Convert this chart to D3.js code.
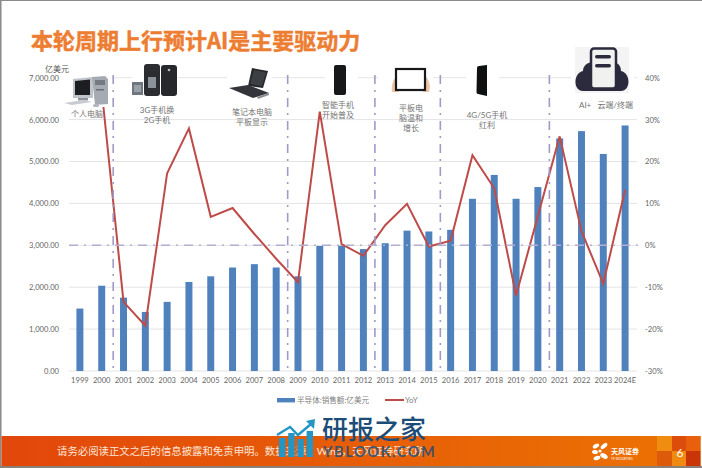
<!DOCTYPE html>
<html>
<head>
<meta charset="utf-8">
<script src="https://cdn.jsdelivr.net/npm/d3@7"></script>
<style>
html, body { margin: 0; padding: 0; background: #fff; overflow: hidden; }
text { font-family: Lato, "Noto Sans CJK SC", sans-serif; }
</style>
</head>
<body>
<div id="chart"></div>
<script>
var years = ["1999","2000","2001","2002","2003","2004","2005","2006","2007","2008","2009","2010","2011","2012","2013","2014","2015","2016","2017","2018","2019","2020","2021","2022","2023","2024E"];
var sales = [1490,2035,1750,1410,1650,2125,2260,2470,2550,2470,2260,2985,2990,2910,3050,3350,3330,3370,4110,4680,4110,4390,5550,5725,5180,5860];
var yoy = [null,37,-13.5,-19.2,17.2,27.9,6.8,8.9,2.7,-3.2,-8.8,31.9,0.3,-2.5,4.8,9.9,-0.3,1.1,21.5,13.6,-12,7,26,3.4,-9.2,13.2];
var leftTicks = [0,1000,2000,3000,4000,5000,6000,7000];
var rightTicks = [-30,-20,-10,0,10,20,30,40];
var phaseYears = ["2000","2008","2012","2015","2020"];
var seriesNames = ["半导体:销售额:亿美元", "YoY"];
var captionLines = [
  ["个人电脑"],
  ["3G手机换", "2G手机"],
  ["笔记本电脑", "平板显示"],
  ["智能手机", "开始普及"],
  ["平板电", "脑温和", "增长"],
  ["4G/5G手机", "红利"],
  ["AI+\u00a0\u00a0\u00a0云端/终端"]
];

var svg = d3.select("#chart").append("svg")
  .attr("width", 702)
  .attr("height", 468);

// page edges
svg.append("rect").attr("width", 702).attr("height", 468).attr("fill", "#fff");
svg.append("rect").attr("width", 702).attr("height", 1).attr("fill", "#8a8a8a");
svg.append("rect").attr("width", 1.5).attr("height", 468).attr("fill", "#8a8a8a");
svg.append("rect").attr("y", 466).attr("width", 702).attr("height", 2).attr("fill", "#8a8278");

svg.append("text").attr("x", 31).attr("y", 49)
  .attr("font-size", 22).attr("font-weight", 700).attr("fill", "#ed7d31")
  .attr("stroke", "#ed7d31").attr("stroke-width", 0.5)
  .style("font-family", '"Noto Sans CJK SC", sans-serif')
  .text("本轮周期上行预计AI是主要驱动力");

var xScale = d3.scaleBand().domain(years).range([69, 636]).paddingInner(0.68).paddingOuter(0.34);
var yLeft = d3.scaleLinear().domain([0, 7000]).range([371, 77.7]);
var yRight = d3.scaleLinear().domain([-30, 40]).range([371, 77.7]);
var xMid = function(d) { return xScale(d) + xScale.bandwidth() / 2; };

// gridlines
svg.append("g").selectAll("line").data(leftTicks).enter().append("line")
  .attr("x1", 69).attr("x2", 637)
  .attr("y1", d => yLeft(d)).attr("y2", d => yLeft(d))
  .attr("stroke", "#e4e4e6").attr("stroke-width", 1);

// bars
svg.append("g").selectAll("rect").data(sales).enter().append("rect")
  .attr("x", (d, i) => xScale(years[i]))
  .attr("width", xScale.bandwidth())
  .attr("y", d => yLeft(d))
  .attr("height", d => yLeft(0) - yLeft(d))
  .attr("fill", "#4f81bd");

// axes
var leftAxis = d3.axisLeft(yLeft).tickValues(leftTicks).tickSize(0).tickPadding(10).tickFormat(d3.format(",.2f"));
var rightAxis = d3.axisRight(yRight).tickValues(rightTicks).tickSize(0).tickPadding(8).tickFormat(d => d + "%");
var bottomAxis = d3.axisBottom(xScale).tickSize(0).tickPadding(7);

[svg.append("g").attr("transform", "translate(69,0)").call(leftAxis),
 svg.append("g").attr("transform", "translate(637,0)").call(rightAxis),
 svg.append("g").attr("transform", "translate(0,371)").call(bottomAxis)].forEach(function(g) {
  g.select(".domain").remove();
  g.selectAll("text").attr("font-size", 7.6).attr("fill", "#666")
    .style("font-family", "Lato, sans-serif");
});

// YoY line
var line = d3.line()
  .defined(d => d !== null)
  .x((d, i) => xMid(years[i]))
  .y(d => yRight(d));
svg.append("path").datum(yoy)
  .attr("d", line)
  .attr("fill", "none").attr("stroke", "#be4b48").attr("stroke-width", 2);

// phase dividers, half way between two years
var dashes = "9,6,2,6";
var dividerX = function(y) { return xMid(y) + xScale.step() / 2 + 0.6; };
svg.append("g").selectAll("line").data(phaseYears).enter().append("line")
  .attr("x1", dividerX).attr("x2", dividerX)
  .attr("y1", 75).attr("y2", 371)
  .attr("stroke", "#a09ac8").attr("stroke-width", 1.6).attr("stroke-dasharray", dashes);
svg.append("line")
  .attr("x1", 69).attr("x2", 640)
  .attr("y1", yRight(0)).attr("y2", yRight(0))
  .attr("stroke", "#b3aed2").attr("stroke-width", 1.6).attr("stroke-dasharray", dashes);

// pictures sit on white boxes that cut the top gridline and the line
[[62,112],[132,178],[227,272],[325,358],[378,433],[466,499],[571,634]].forEach(function(b) {
  svg.append("rect").attr("x", b[0]).attr("y", 72).attr("width", b[1] - b[0]).attr("height", 12).attr("fill", "#fff");
});
svg.append("rect").attr("x", 62).attr("y", 72).attr("width", 50).attr("height", 35).attr("fill", "#fff");

function icon(x, y) {
  return svg.append("g").attr("transform", "translate(" + x + "," + y + ")");
}

// desktop pc
var pc = icon(64, 74);
pc.append("path").attr("d", "M9,5 L29,3 L29,24 L9,24 Z").attr("fill", "#bfc4ca");
pc.append("path").attr("d", "M11,7 L26,5.5 L26,21 L11,21 Z").attr("fill", "#1d1e22");
pc.append("path").attr("d", "M28,3 L41,2 L44,5 L44,30 L31,31 Z").attr("fill", "#a4abb3");
pc.append("rect").attr("x", 31).attr("y", 6).attr("width", 10).attr("height", 5).attr("fill", "#737a82");
pc.append("rect").attr("x", 32).attr("y", 15).attr("width", 8).attr("height", 1.5).attr("fill", "#6a7078");
pc.append("rect").attr("x", 14).attr("y", 24).attr("width", 10).attr("height", 2.5).attr("fill", "#8f959c");
pc.append("path").attr("d", "M0,29 L20,26 L28,28 L8,31 Z").attr("fill", "#c8ccd1");
pc.append("ellipse").attr("cx", 32).attr("cy", 31.5).attr("rx", 3).attr("ry", 1.6).attr("fill", "#b0b5bb");

// two phones and a battery
var phones = icon(132, 63);
phones.append("rect").attr("x", 0).attr("y", 19).attr("width", 11).attr("height", 13).attr("fill", "#6f7680");
phones.append("rect").attr("x", 2).attr("y", 22).attr("width", 7).attr("height", 7).attr("fill", "#9aa0a8");
phones.append("rect").attr("x", 12).attr("y", 1).attr("width", 16).attr("height", 32).attr("rx", 3).attr("fill", "#2b2d31");
phones.append("rect").attr("x", 16).attr("y", 14).attr("width", 8).attr("height", 11).attr("fill", "#8b929a");
phones.append("rect").attr("x", 29).attr("y", 2).attr("width", 16).attr("height", 31).attr("rx", 3).attr("fill", "#26282b");
phones.append("circle").attr("cx", 37).attr("cy", 7).attr("r", 1.3).attr("fill", "#bbb");

// laptop
var laptop = icon(228, 66);
laptop.append("path").attr("d", "M24,2 L40,5 L35,22 L20,20 Z").attr("fill", "#25272b");
laptop.append("path").attr("d", "M26,4 L38,6.5 L34,20 L22,18 Z").attr("fill", "#3c3f44");
laptop.append("path").attr("d", "M1,22 L20,19 L41,27 L25,32 Z").attr("fill", "#33353a");
laptop.append("path").attr("d", "M29,31 L41,27 L41,29 L30,33 Z").attr("fill", "#8a8d92");

// smartphone
var phone = icon(333, 64);
phone.append("rect").attr("x", 1).attr("y", 1).attr("width", 12).attr("height", 30).attr("rx", 2).attr("fill", "#17181a");

// tablet in hands
var tablet = icon(391, 66);
tablet.append("path").attr("d", "M1,26 C0,20 2,14 5,11 L8,26 Z").attr("fill", "#ecc4a6");
tablet.append("path").attr("d", "M38,26 C40,20 38,14 35,11 L32,26 Z").attr("fill", "#ecc4a6");
tablet.append("rect").attr("x", 5).attr("y", 3).attr("width", 29).attr("height", 21).attr("fill", "#fff").attr("stroke", "#17181a").attr("stroke-width", 2.2);

// second smartphone
var phone2 = icon(475, 64);
phone2.append("path").attr("d", "M2,4 Q2,2 4,2 L12,1 L12,32 L3,30 Q1.5,30 1.5,28 Z").attr("fill", "#0f1012");

// cloud with server
var cloud = icon(575, 47);
cloud.append("rect").attr("width", 54).attr("height", 46).attr("fill", "#f4f4f4");
cloud.append("path")
  .attr("d", "M8,44 C-2,44 -2,26 8,24 C8,18 14,14 18,16 L36,16 C42,14 46,18 46,24 C56,26 56,44 46,44 Z")
  .attr("fill", "#2b2b3d");
cloud.append("rect").attr("x", 16).attr("y", 1.5).attr("width", 25).attr("height", 40).attr("rx", 3)
  .attr("fill", "#f1f1ef").attr("stroke", "#2b2b3d").attr("stroke-width", 2.5);
cloud.append("rect").attr("x", 20).attr("y", 8).attr("width", 16).attr("height", 3.5).attr("rx", 1.7).attr("fill", "#2b2b3d");
cloud.append("rect").attr("x", 20).attr("y", 17).attr("width", 16).attr("height", 3.5).attr("rx", 1.7).attr("fill", "#2b2b3d");

// captions
svg.append("text").attr("x", 45).attr("y", 71.5).attr("font-size", 8).attr("fill", "#595959").text("亿美元");
var captionX = [87, 157, 252, 338, 411, 487, 606];
var captionY = [116.5, 112.5, 115, 108, 110.5, 117.5, 108];
captionLines.forEach(function(lines, k) {
  lines.forEach(function(t, i) {
    svg.append("text").attr("x", captionX[k]).attr("y", captionY[k] + i * 10.4).attr("text-anchor", "middle")
      .attr("font-size", 8).attr("fill", "#737373").text(t);
  });
});

// legend
svg.append("rect").attr("x", 277).attr("y", 398).attr("width", 18).attr("height", 4.4).attr("fill", "#4f81bd");
svg.append("text").attr("x", 297).attr("y", 403).attr("font-size", 7.6).attr("fill", "#7f7f7f").text(seriesNames[0]);
svg.append("line").attr("x1", 385).attr("x2", 404).attr("y1", 400).attr("y2", 400).attr("stroke", "#be4b48").attr("stroke-width", 2);
svg.append("text").attr("x", 405).attr("y", 403).attr("font-size", 8).attr("fill", "#7f7f7f").text(seriesNames[1]);

// footer band
var grad = svg.append("defs").append("linearGradient").attr("id", "band");
grad.append("stop").attr("offset", "0").attr("stop-color", "#e2470b");
grad.append("stop").attr("offset", "1").attr("stop-color", "#ec7303");
svg.append("rect").attr("x", 1.5).attr("y", 436).attr("width", 699).attr("height", 30).attr("fill", "url(#band)");
[[657,436,"#f08c10"],[657,451,"#dd5a0a"],[672,436,"#dc4c0a"],[672,451,"#f08a10"],[686,436,"#e8600c"],[686,451,"#c93508"]].forEach(function(c) {
  svg.append("rect").attr("x", c[0]).attr("y", c[1]).attr("width", c[0] === 686 ? 14.5 : 15).attr("height", 15).attr("fill", c[2]);
});
svg.append("text").attr("x", 57).attr("y", 455).attr("font-size", 10.4).attr("fill", "#fbe6d8")
  .text("请务必阅读正文之后的信息披露和免责申明。数据来源：Wind，天风证券研究所");
svg.append("text").attr("x", 611).attr("y", 454).attr("font-size", 7).attr("font-weight", 700).attr("fill", "#fff").text("天风证券");
svg.append("text").attr("x", 611).attr("y", 459.5).attr("font-size", 3.2).attr("fill", "#fff").text("TF SECURITIES");
// logo petals
[[596,446,3.5,2,-30],[604,446,4,2,-40],[595,452,3,2,10],[597,458,3.5,2,-20],[604,456,4,2.4,30],[600,451,1.6,1.6,0]].forEach(function(p) {
  svg.append("ellipse").attr("rx", p[2]).attr("ry", p[3])
    .attr("transform", "translate(" + p[0] + "," + p[1] + ") rotate(" + p[4] + ")").attr("fill", "#fff");
});
svg.append("text").attr("x", 680).attr("y", 456.5).attr("text-anchor", "middle").attr("font-size", 12).attr("fill", "#fff").text("6");

// watermark
svg.append("path").attr("d", "M277,435 L290,427 L298,435 L311,424").attr("fill", "none").attr("stroke", "#2496c6").attr("stroke-width", 2.4);
svg.append("path").attr("d", "M306,421 L315,419 L314,429 Z").attr("fill", "#2496c6");
svg.append("g").selectAll("rect").data([438, 433, 439, 431]).enter().append("rect")
  .attr("x", (d, i) => 279 + i * 9.2).attr("y", d => d)
  .attr("width", 6.4).attr("height", d => 457 - d).attr("fill", "#2496c6");
svg.append("text").attr("x", 322).attr("y", 439).attr("font-size", 26).attr("font-weight", 500).attr("fill", "#1c4d78")
  .style("font-family", '"Noto Sans CJK SC", sans-serif').text("研报之家");
svg.append("text").attr("x", 323).attr("y", 457).attr("font-size", 14.5).attr("font-weight", 700).attr("letter-spacing", 1.6).attr("fill", "#1c4d78")
  .attr("fill-opacity", 0.85).text("YBLOOK.COM");
</script>
</body>
</html>
